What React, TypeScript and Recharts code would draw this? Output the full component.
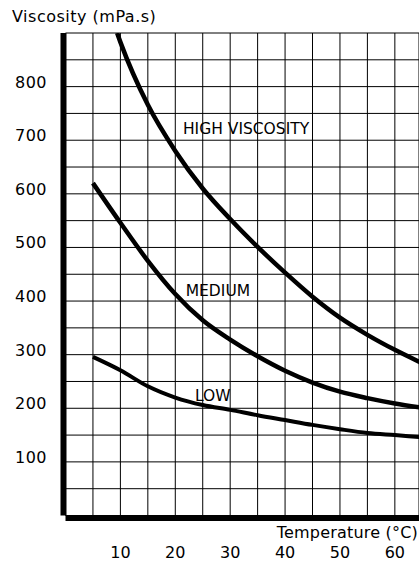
import React from "react";
import { LineChart, Line, XAxis, YAxis, CartesianGrid, ReferenceDot } from "recharts";

const FONT = "'DejaVu Sans', Verdana, sans-serif";

// curves (temperature °C -> viscosity mPa.s)
const highTemp = [9.4, 10, 15, 20, 25, 30, 35, 40, 45, 50, 55, 60, 65];
const highVisc = [900, 883, 766, 680, 610, 553, 501, 453, 408, 369, 337, 309, 284];

const mediumTemp = [5, 10, 15, 20, 25, 30, 35, 40, 45, 50, 55, 60, 65];
const mediumVisc = [620, 546, 475, 413, 364, 328, 297, 270, 248, 231, 219, 209, 201];

const lowTemp = [5, 10, 15, 20, 25, 30, 35, 40, 45, 50, 55, 60, 65];
const lowVisc = [296, 271, 241, 220, 206, 197, 187, 178, 169, 161, 154, 150, 146];

// grid every 5 °C / 50 mPa.s, labels on a coarser step
const xTicks = [0, 5, 10, 15, 20, 25, 30, 35, 40, 45, 50, 55, 60];
const xLabels = [10, 20, 30, 40, 50, 60];
const yTicks = [0, 50, 100, 150, 200, 250, 300, 350, 400, 450, 500, 550, 600, 650, 700, 750, 800, 850, 900];
const yLabels = [100, 200, 300, 400, 500, 600, 700, 800];

const toRows = (temps: number[], visc: number[]) => temps.map((t, i) => ({ t, v: visc[i] }));

const highData = toRows(highTemp, highVisc);
const mediumData = toRows(mediumTemp, mediumVisc);
const lowData = toRows(lowTemp, lowVisc);

function XTick({ x, y, payload }: any) {
  if (!xLabels.includes(payload.value)) return <g />;
  return (
    <text x={x} y={y} textAnchor="middle" fontFamily={FONT} fontSize={16} fill="#000">
      {payload.value}
    </text>
  );
}

function YTick({ x, y, payload }: any) {
  if (!yLabels.includes(payload.value)) return <g />;
  return (
    <text x={x} y={y} dy={1} textAnchor="end" fontFamily={FONT} fontSize={16} letterSpacing={0.5} fill="#000">
      {payload.value}
    </text>
  );
}

const curveLabel = (text: string) => (p: any) => (
  <text x={p.cx} y={p.cy} fontFamily={FONT} fontSize={15.5} fill="#000">
    {text}
  </text>
);

export default function App() {
  const lineProps = {
    dataKey: "v",
    type: "monotone" as const,
    stroke: "#000",
    dot: false,
    isAnimationActive: false,
  };

  return (
    <div style={{ position: "absolute", left: 0, top: 0, width: 419, height: 563, background: "#fff" }}>
      <LineChart width={419} height={563} margin={{ top: 33, right: 0, bottom: 0, left: 0 }}>
        <CartesianGrid stroke="#000" strokeWidth={1} />
        <XAxis
          dataKey="t"
          type="number"
          domain={[0, 64.4]}
          allowDataOverflow
          ticks={xTicks}
          interval={0}
          height={47.5}
          tickLine={false}
          tickSize={0}
          tickMargin={42.5}
          tick={<XTick />}
          axisLine={{ stroke: "#000", strokeWidth: 6, transform: "translate(0,2.5)" }}
        />
        <YAxis
          type="number"
          domain={[0, 900]}
          allowDataOverflow
          ticks={yTicks}
          interval={0}
          width={65.5}
          tickLine={false}
          tickSize={0}
          tickMargin={18.5}
          tick={<YTick />}
          axisLine={{ stroke: "#000", strokeWidth: 6, transform: "translate(-2,0)" }}
        />
        <Line {...lineProps} data={highData} strokeWidth={4.5} />
        <Line {...lineProps} data={mediumData} strokeWidth={4.5} />
        <Line {...lineProps} data={lowData} strokeWidth={4} />
        <ReferenceDot x={21.4} y={712} r={1} shape={curveLabel("HIGH VISCOSITY")} />
        <ReferenceDot x={21.9} y={409} r={1} shape={curveLabel("MEDIUM")} />
        <ReferenceDot x={23.6} y={214} r={1} shape={curveLabel("LOW")} />
      </LineChart>
      <svg
        width={419}
        height={563}
        style={{ position: "absolute", left: 0, top: 0, pointerEvents: "none" }}
      >
        <text x={12} y={22} fontFamily={FONT} fontSize={16} letterSpacing={0.5} fill="#000">
          Viscosity (mPa.s)
        </text>
        <text x={418} y={538} textAnchor="end" fontFamily={FONT} fontSize={16} letterSpacing={0.2} fill="#000">
          Temperature (°C)
        </text>
      </svg>
    </div>
  );
}
